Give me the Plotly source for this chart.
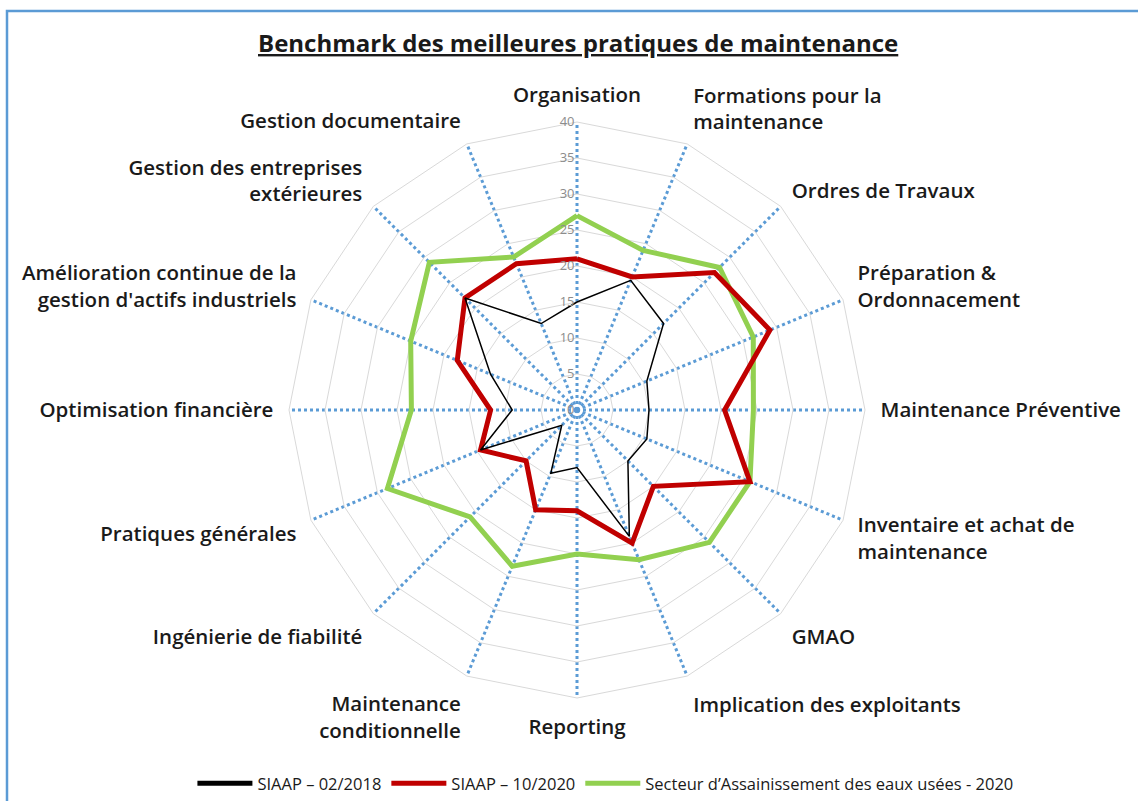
import plotly.graph_objects as go

categories = [
    "Organisation",
    "Formations pour la<br>maintenance",
    "Ordres de Travaux",
    "Préparation &<br>Ordonnacement",
    "Maintenance Préventive",
    "Inventaire et achat de<br>maintenance",
    "GMAO",
    "Implication des exploitants",
    "Reporting",
    "Maintenance<br>conditionnelle",
    "Ingénierie de fiabilité",
    "Pratiques générales",
    "Optimisation financière",
    "Amélioration continue de la<br>gestion d'actifs industriels",
    "Gestion des entreprises<br>extérieures",
    "Gestion documentaire",
]

siaap_2018 = [15, 19.5, 17, 10.5, 10, 10.5, 10, 19, 8, 9.5, 3, 14.5, 9, 13, 22, 13]
siaap_2020 = [21, 20, 27, 29, 20.5, 26, 15, 20, 14, 15, 10, 14.5, 12, 18, 22, 22]
secteur_2020 = [27, 24, 28, 26.5, 24.5, 26, 26, 22.5, 20, 23.5, 21, 28.5, 23, 25, 29, 23]

series_names = ["SIAAP – 02/2018", "SIAAP – 10/2020", "Secteur d’Assainissement des eaux usées - 2020"]
radial_ticks = [0, 5, 10, 15, 20, 25, 30, 35, 40]

FONT = "Open Sans"

def closed(vals):
    return vals + vals[:1]

theta = closed(categories)

fig = go.Figure()
# draw order: green, red, black (black on top)
fig.add_trace(go.Scatterpolar(r=closed(secteur_2020), theta=theta, mode="lines",
                              line=dict(color="#92D050", width=5), showlegend=False))
fig.add_trace(go.Scatterpolar(r=closed(siaap_2020), theta=theta, mode="lines",
                              line=dict(color="#C00000", width=5), showlegend=False))
fig.add_trace(go.Scatterpolar(r=closed(siaap_2018), theta=theta, mode="lines",
                              line=dict(color="#000000", width=1.5), showlegend=False))

# legend entries (thick line samples)
for name, color in zip(series_names, ["#000000", "#C00000", "#92D050"]):
    fig.add_trace(go.Scatter(x=[None], y=[None], mode="lines", name=name,
                             line=dict(color=color, width=5), showlegend=True))

cx, cy, R = 577, 410, 288
W, H = 1138, 801

fig.update_layout(
    width=W, height=H,
    margin=dict(l=0, r=0, t=0, b=0),
    paper_bgcolor="white",
    plot_bgcolor="white",
    xaxis=dict(visible=False),
    yaxis=dict(visible=False),
    polar=dict(
        domain=dict(x=[(cx - R) / W, (cx + R) / W], y=[(H - cy - R) / H, (H - cy + R) / H]),
        bgcolor="white",
        gridshape="linear",
        angularaxis=dict(
            rotation=90, direction="clockwise",
            showgrid=True, gridcolor="#5B9BD5", gridwidth=3, griddash="dot",
            showline=True, linecolor="#D9D9D9", linewidth=1,
            ticks="outside", ticklen=11, tickcolor="rgba(0,0,0,0)",
            tickfont=dict(family=FONT, size=20.5, color="#1a1a1a", weight=600),
        ),
        radialaxis=dict(
            range=[0, 40], tickvals=radial_ticks, angle=90, tickangle=90,
            side="counterclockwise",
            showgrid=True, gridcolor="#D9D9D9", gridwidth=1,
            showline=False, ticks="",
            tickfont=dict(family=FONT, size=13, color="#8C8C8C"),
        ),
    ),
    legend=dict(orientation="h", x=0.532, xanchor="center", y=0.0, yanchor="bottom",
                font=dict(family=FONT, size=16.5, color="#1a1a1a"), itemwidth=55),
    annotations=[dict(
        text="<u><b>Benchmark des meilleures pratiques de maintenance</b></u>",
        x=578 / W, y=1 - 42 / H, xref="paper", yref="paper",
        xanchor="center", yanchor="middle", showarrow=False,
        font=dict(family=FONT, size=24, color="#1a1a1a"),
    )],
    shapes=[dict(type="rect", xref="paper", yref="paper",
                 x0=7 / W, x1=1.02, y0=-0.02, y1=1 - 11 / H,
                 line=dict(color="#5B9BD5", width=2.5))],
)

fig.write_html("out.html", post_script="document.body.style.margin='0';",
               config={"displayModeBar": False})
